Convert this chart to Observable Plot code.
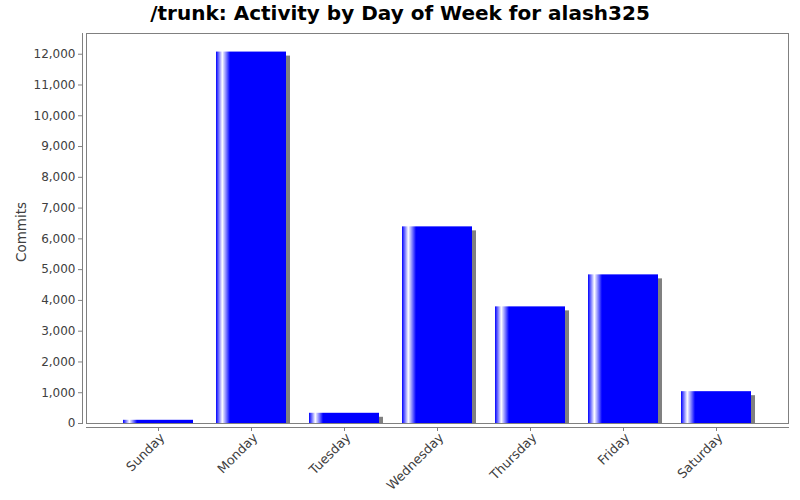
<!DOCTYPE html>
<html>
<head>
<meta charset="utf-8">
<script src="https://cdn.jsdelivr.net/npm/d3@7"></script>
<script src="https://cdn.jsdelivr.net/npm/@observablehq/plot@0.6"></script>
<style>
  html, body { margin: 0; padding: 0; background: #fff; }
  #wrap { position: relative; width: 800px; height: 500px; overflow: hidden; }
  #title { position: absolute; left: 0; top: 3.4px; width: 800px; text-align: center;
           font-family: "DejaVu Sans", sans-serif; font-weight: bold; font-size: 20px;
           line-height: 20px; color: #000; z-index: 2; }
  #chart { position: absolute; left: 0; top: 0; }
</style>
</head>
<body>
<div id="wrap">
  <div id="title">/trunk: Activity by Day of Week for alash325</div>
  <div id="chart"></div>
</div>
<script>
const days = ["Sunday", "Monday", "Tuesday", "Wednesday", "Thursday", "Friday", "Saturday"];
const commits = [104, 12070, 332, 6390, 3790, 4830, 1034];
const yTicks = [0, 1000, 2000, 3000, 4000, 5000, 6000, 7000, 8000, 9000, 10000, 11000, 12000];
const yLabel = "Commits";

const data = days.map((d, i) => ({day: d, commits: commits[i]}));
const yMax = d3.max(commits) * 1.05;

const plot = Plot.plot({
  width: 800,
  height: 500,
  marginTop: 33,
  marginBottom: 77,
  marginLeft: 86,
  marginRight: 12,
  style: {fontFamily: "DejaVu Sans", fontSize: "12px", background: "#ffffff", color: "#404040"},
  x: {domain: days, paddingInner: 0.252, paddingOuter: 0.376, align: 0.5},
  y: {domain: [0, yMax]},
  marks: [
    Plot.barY(data, {x: "day", y: "commits", fill: "#808080", dx: 4, insetTop: 4}),
    Plot.barY(data, {x: "day", y: "commits", fill: "url(#barGrad)"}),
    Plot.frame({stroke: "#808080"}),
    Plot.frame({anchor: "left", dx: -4, stroke: "#808080"}),
    Plot.frame({anchor: "bottom", dy: 4, stroke: "#808080"}),
    Plot.axisY({ticks: yTicks, tickFormat: d3.format(","), tickSize: 4, tickPadding: 3,
                dx: -4, label: null, stroke: "#808080", fill: "#404040"}),
    Plot.axisX({tickSize: 4, dy: 4, text: null, label: null, stroke: "#808080"}),
    Plot.axisX({tickSize: 0, dx: 4, dy: 9, tickRotate: -45, tickPadding: 3, label: null,
                fontSize: 12.8, fill: "#404040"}),
    Plot.text([yLabel], {frameAnchor: "left", dx: -65.3, dy: 3.5, rotate: -90,
                         fontSize: 13.5, fill: "#404040", textAnchor: "middle"})
  ]
});

const ns = "http://www.w3.org/2000/svg";
const defs = document.createElementNS(ns, "defs");
defs.innerHTML =
  '<linearGradient id="barGrad" x1="0" x2="1" y1="0" y2="0">' +
  '<stop offset="0" stop-color="#0000ff"/>' +
  '<stop offset="0.09" stop-color="#ffffff"/>' +
  '<stop offset="0.2" stop-color="#0000ff"/>' +
  '<stop offset="1" stop-color="#0000ff"/>' +
  '</linearGradient>';
plot.insertBefore(defs, plot.firstChild);

document.getElementById("chart").appendChild(plot);
</script>
</body>
</html>
